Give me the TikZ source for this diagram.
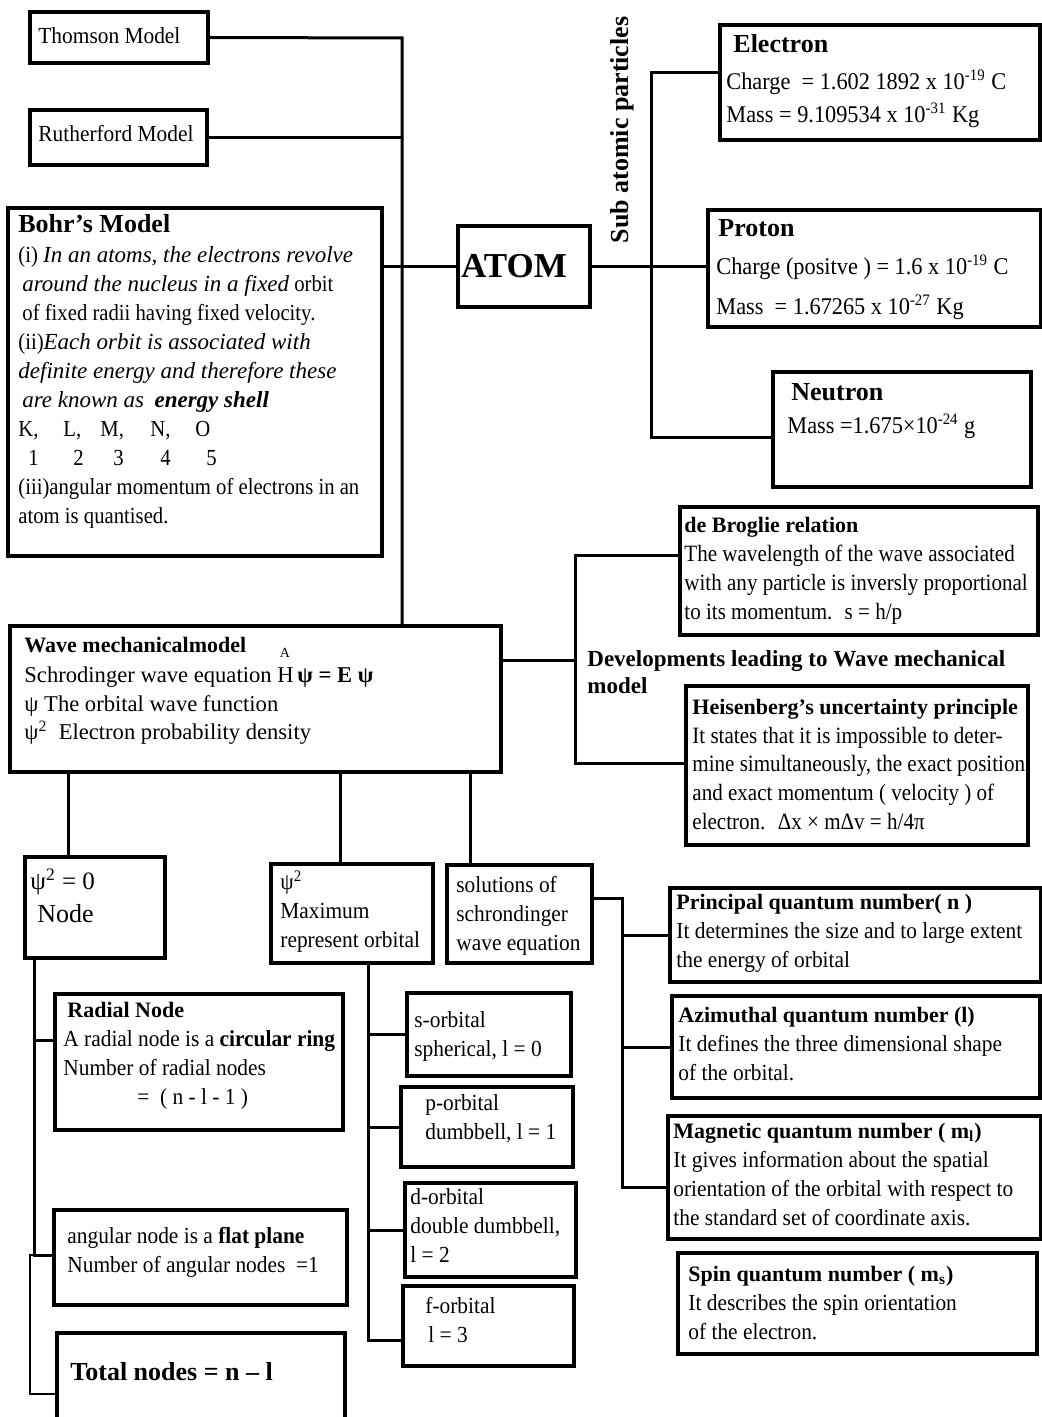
\documentclass[tikz,border=0pt]{standalone}
\usepackage{fontspec}
\setmainfont{Liberation Serif}
\newfontfamily\cA[FakeStretch=0.93]{Liberation Serif}
\newfontfamily\cB[FakeStretch=0.9]{Liberation Serif}
\usetikzlibrary{fit}
\newcommand{\hdr}[1]{{\rmfamily\bfseries\fontsize{11}{14.5}\selectfont #1}}
\newcommand{\itn}[1]{{\rmfamily\itshape #1}}
\begin{document}
\begin{tikzpicture}[x=0.5pt,y=-0.5pt,
  box/.style={draw, line width=1.6pt, inner sep=0pt, fit={#1}},
  conn/.style={line width=1.5pt},
  thin/.style={line width=0.8pt},
  txt/.style={anchor=north west, align=left, inner sep=0pt, font=\cA\fontsize{11.5}{14.5}\selectfont},
  one/.style={anchor=west, inner sep=0pt, font=\cA\fontsize{11.5}{13}\selectfont},
  hd/.style={anchor=west, inner sep=0pt, font=\bfseries\fontsize{13}{15}\selectfont}]
\useasboundingbox (0,0) rectangle (1042,1417);

% ---------- boxes ----------
\node[box={(30,12) (208,63)}] (thomson) {};
\node[box={(30,110) (207,165)}] (rutherford) {};
\node[box={(8,208) (382,556)}] (bohr) {};
\node[box={(458,226) (590,307)}] (atom) {};
\node[box={(720,25) (1040,140)}] (electron) {};
\node[box={(708,210) (1041,327)}] (proton) {};
\node[box={(773,372) (1031,487)}] (neutron) {};
\node[box={(10,626) (501,772)}] (wave) {};
\node[box={(680,507) (1038,635)}] (debroglie) {};
\node[box={(686,686) (1028,845)}] (heis) {};
\node[box={(25,857) (165,958)}] (nodebox) {};
\node[box={(271,864) (433,963)}] (psimax) {};
\node[box={(447,865) (592,963)}] (solutions) {};
\node[box={(55,994) (343,1130)}] (radial) {};
\node[box={(54,1210) (347,1305)}] (angular) {};
\node[box={(57,1333) (345,1430)}] (total) {};
\node[box={(407,993) (571,1076)}] (sorb) {};
\node[box={(401,1087) (573,1167)}] (porb) {};
\node[box={(405,1183) (576,1277)}] (dorb) {};
\node[box={(403,1286) (574,1366)}] (forb) {};
\node[box={(670,888) (1041,982)}] (principal) {};
\node[box={(672,996) (1040,1098)}] (azimuthal) {};
\node[box={(668,1116) (1041,1239)}] (magnetic) {};
\node[box={(678,1253) (1037,1354)}] (spin) {};

% ---------- texts ----------
\node[one] (tThomson) at (38,36) {Thomson Model};
\node[one] (tRuth) at (38,134) {Rutherford Model};
\node[hd] (tBohr) at (18,224) {Bohr's Model};
\node[txt, font=\cB\fontsize{11.5}{14.5}\selectfont] (tBohrBody) at (18,246) {(i) \itn{In an atoms, the electrons revolve}\\
\hspace*{2pt}\itn{around the nucleus in a fixed} orbit\\
\hspace*{2pt}of fixed radii having fixed velocity.\\
(ii)\itn{Each orbit is associated with}\\
\itn{definite energy and therefore these}\\
\hspace*{2pt}\itn{are known as} \ {\rmfamily\bfseries\itshape energy shell}\\
\makebox[22.5pt][l]{K,}\makebox[18.5pt][l]{L,}\makebox[25pt][l]{M,}\makebox[22.5pt][l]{N,}O\\
\hspace*{5pt}\makebox[22.5pt][l]{1}\makebox[20pt][l]{2}\makebox[23.5pt][l]{3}\makebox[23pt][l]{4}5\\
(iii)angular momentum of electrons in an\\
atom is quantised.};
\node[anchor=center, inner sep=0pt, font=\bfseries\fontsize{17.5}{19}\selectfont] (tAtom) at (514,266) {ATOM};
\node[rotate=90, inner sep=0pt, font=\bfseries\fontsize{13}{15}\selectfont] (tSub) at (622,130) {Sub atomic particles};

\node[hd] (tEl) at (733,44) {Electron};
\node[txt, font=\cA\fontsize{12}{16.5}\selectfont] (tElB) at (726,70) {Charge \ = 1.602 1892 x 10\textsuperscript{-19} C\\
Mass = 9.109534 x 10\textsuperscript{-31} Kg};
\node[hd] (tPr) at (718,228) {Proton};
\node[txt, font=\cA\fontsize{12}{20}\selectfont] (tPrB) at (716,255) {Charge (positve ) = 1.6 x 10\textsuperscript{-19} C\\
Mass \ = 1.67265 x 10\textsuperscript{-27} Kg};
\node[hd] (tNe) at (791,392) {Neutron};
\node[one, font=\cA\fontsize{12}{13}\selectfont] (tNeB) at (787,426) {Mass =1.675×10\textsuperscript{-24} g};

\node[txt, font=\fontsize{11.3}{14.3}\selectfont] (tWave) at (24,637) {\hdr{Wave mechanicalmodel}\\[0.6pt]
Schrodinger wave equation H\,\textbf{ψ = E ψ}\\
ψ The orbital wave function\\
ψ\textsuperscript{2} \ Electron probability density};
\node[anchor=base, inner sep=0pt, font=\fontsize{7}{7}\selectfont] (tHat) at (285,657) {A};

\node[txt, font=\bfseries\fontsize{11.5}{13.5}\selectfont] (tDev) at (587,650) {Developments leading to Wave mechanical\\model};

\node[txt, font=\cB\fontsize{11.7}{14.4}\selectfont] (tDeB) at (684,517) {\hdr{de Broglie relation}\\
The wavelength of the wave associated\\
with any particle is inversly proportional\\
to its momentum. \ s = h/p};

\node[txt, font=\cB\fontsize{11.7}{14.3}\selectfont] (tHeis) at (692,699) {\hdr{Heisenberg’s uncertainty principle}\\
It states that it is impossible to deter-\\
mine simultaneously, the exact position\\
and exact momentum ( velocity ) of\\
electron. \ Δx × mΔv = h/4π};

\node[one, font=\fontsize{12.5}{13}\selectfont] (tNode1) at (30,882) {ψ\textsuperscript{2} = 0};
\node[one, font=\fontsize{13}{14}\selectfont] (tNode2) at (37,914) {Node};

\node[txt] (tMax) at (280,870) {ψ\textsuperscript{2}\\Maximum\\represent orbital};
\node[txt] (tSol) at (456,876) {solutions of\\schrondinger\\wave equation};

\node[txt] (tRad) at (63,1002) {\hspace*{2pt}\hdr{Radial Node}\\
A radial node is a \textbf{circular ring}\\
Number of radial nodes\\
\hspace*{37pt}= \ ( n - l - 1 )};

\node[txt] (tAng) at (67,1227) {angular node is a \textbf{flat plane}\\
Number of angular nodes \ =1};

\node[one, font=\bfseries\fontsize{13}{15}\selectfont] (tTot) at (70,1372) {Total nodes = n – l};

\node[txt] (tS) at (414,1011) {s-orbital\\spherical, l = 0};
\node[txt] (tP) at (425,1094) {p-orbital\\dumbbell, l = 1};
\node[txt] (tD) at (410,1188) {d-orbital\\double dumbbell,\\l = 2};
\node[txt] (tF) at (425,1297) {f-orbital\\\hspace*{1.5pt}l = 3};

\node[txt] (tPrin) at (676,894) {\hdr{Principal quantum number( n )}\\
It determines the size and to large extent\\
the energy of orbital};
\node[txt] (tAzi) at (678,1007) {\hdr{Azimuthal quantum number (l)}\\
It defines the three dimensional shape\\
of the orbital.};
\node[txt] (tMag) at (673,1123) {\hdr{Magnetic quantum number ( m\textsubscript{l})}\\
It gives information about the spatial\\
orientation of the orbital with respect to\\
the standard set of coordinate axis.};
\node[txt] (tSpin) at (688,1266) {\hdr{Spin quantum number ( m\textsubscript{s})}\\
It describes the spin orientation\\
of the electron.};

% ---------- connectors ----------
\coordinate (sp1) at (402,38);
\draw[conn] (thomson.east) -- (sp1) -- (sp1 |- wave.north);
\draw[conn] (rutherford.east) -- (rutherford.east -| sp1);
\draw[conn] (atom.west -| bohr.east) -- (atom.west);

\coordinate (pe) at (651,73);
\coordinate (pn) at (651,437);
\draw[conn] (atom.east) -- (atom.east -| proton.west);
\draw[conn] (electron.west |- pe) -- (pe) -- (pn) -- (pn -| neutron.west);

\coordinate (dv) at (575,660);
\coordinate (dt) at (575,555);
\coordinate (db) at (575,763);
\draw[conn] (wave.east |- dv) -- (dv);
\draw[conn] (debroglie.west |- dt) -- (dt) -- (db) -- (db -| heis.west);

\coordinate (w1) at (68,0);
\coordinate (w2) at (340,0);
\coordinate (w3) at (470,0);
\draw[conn] (wave.south -| w1) -- (nodebox.north -| w1);
\draw[conn] (wave.south -| w2) -- (psimax.north -| w2);
\draw[conn] (wave.south -| w3) -- (solutions.north -| w3);

\coordinate (nr) at (34,1040);
\coordinate (na) at (34,1255);
\coordinate (nt) at (30,1394);
\draw[conn] (nodebox.south -| nr) -- (na) -- (na -| angular.west);
\draw[conn] (nr) -- (nr -| radial.west);
\draw[thin] (na) -- (na -| nt) -- (nt) -- (nt -| total.west);

\coordinate (ob) at (368,1340);
\draw[conn] (psimax.south -| ob) -- (ob) -- (ob -| forb.west);
\draw[conn] (sorb.west -| ob) -- (sorb.west);
\draw[conn] (porb.west -| ob) -- (porb.west);
\draw[conn] (dorb.west -| ob) -- (dorb.west);

\coordinate (qa) at (622,898);
\coordinate (qm) at (622,1187);
\draw[conn] (solutions.east |- qa) -- (qa) -- (qm) -- (qm -| magnetic.west);
\draw[conn] (principal.west -| qa) -- (principal.west);
\draw[conn] (azimuthal.west -| qa) -- (azimuthal.west);
\end{tikzpicture}
\end{document}
